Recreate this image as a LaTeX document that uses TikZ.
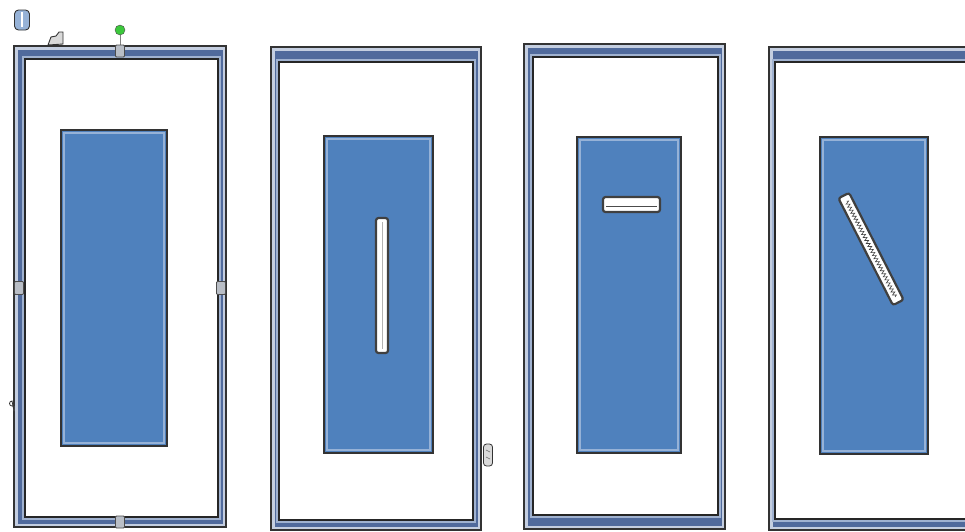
\documentclass[tikz,border=0pt]{standalone}
\usetikzlibrary{decorations.pathmorphing,calc}
\definecolor{officeblue}{RGB}{79,129,189}
\definecolor{bevelblue}{RGB}{150,178,215}
\definecolor{bandlight}{RGB}{196,206,224}
\definecolor{bandmid}{RGB}{80,106,156}
\definecolor{bandpale}{RGB}{160,178,208}
\definecolor{handlegray}{RGB}{185,190,198}
\definecolor{rotgreen}{RGB}{60,200,60}
\newcommand\pframe[8]{%
  \fill[bandlight] (#1,#2) rectangle (#3,#4);
  \draw[black!80,line width=1.4pt] (#1,#2) rectangle (#3,#4);
  \fill[bandmid] ({#1+3.5},{#2+3.5}) rectangle ({#3-3.5},{#4-3.5});
  \fill[bandpale] ({#5-3},{#6-3}) rectangle ({#7+3},{#8+3});
  \fill[white] (#5,#6) rectangle (#7,#8);
  \draw[black!85,line width=1.4pt] (#5,#6) rectangle (#7,#8);
}
\newcommand\bbox[4]{%
  \fill[officeblue] (#1,#2) rectangle (#3,#4);
  \draw[black!80,line width=1.6pt] (#1,#2) rectangle (#3,#4);
  \draw[bevelblue,line width=1.1pt] ({#1+3},{#2+3}) rectangle ({#3-3},{#4-3});
}
\tikzset{
  slotbox/.style={draw=black!75,fill=white,line width=2.2pt,rounded corners=2.5pt,inner sep=0pt},
  handle/.style={draw=black!70,fill=handlegray,line width=0.8pt,rounded corners=1pt,inner sep=0pt},
}
\begin{document}
\begin{tikzpicture}[x=1pt,y=-1pt]
\useasboundingbox (0,0) rectangle (965,531);
\clip (0,0) rectangle (965,531);
\fill[white] (0,0) rectangle (965,531);
% panel frames
\pframe{14}{46}{226}{527}{25}{59}{218}{517}
\pframe{271}{47}{481}{530}{279}{62}{473}{520}
\pframe{524}{44}{725}{529}{533}{57}{718}{515}
\pframe{769}{47}{985}{530}{775}{62}{985}{519}
% blue boxes
\bbox{61}{130}{167}{446}
\bbox{324}{136}{433}{453}
\bbox{577}{137}{681}{453}
\bbox{820}{137}{928}{454}
% slots
\node[slotbox,minimum width=12pt,minimum height=135pt] (s2) at (382,285.5) {};
\draw[black!30,line width=0.6pt] (382,222) -- (382,349);
\node[slotbox,minimum width=57pt,minimum height=15pt] (s3) at (631.5,204.5) {};
\draw[black!70,line width=0.9pt] (606,206) -- (657,206);
\node[slotbox,minimum width=120pt,minimum height=12pt,rotate=-63] (s4) at (871,249) {};
\draw[black!75,line width=0.6pt,decorate,decoration={zigzag,segment length=3.4pt,amplitude=1.8pt}]
  ($(s4.west)!0.06!(s4.east)$) -- ($(s4.west)!0.94!(s4.east)$);
% selection handles on panel 1
\draw[black!50,line width=1pt] (120,35) -- (120,46);
\node[circle,draw=black!70,fill=rotgreen,minimum size=10pt,inner sep=0pt] (rot) at (120,30) {};
\node[handle,minimum width=9pt,minimum height=12pt] (ht) at (120,51) {};
\node[handle,minimum width=9pt,minimum height=12pt] (hb) at (120,522) {};
\node[handle,minimum width=9pt,minimum height=13pt] (hl) at (19,288) {};
\node[handle,minimum width=9pt,minimum height=13pt] (hr) at (221,288) {};
% cursors
\node[draw=black!80,fill=bevelblue,line width=0.9pt,rounded corners=4pt,minimum width=15pt,minimum height=20pt,inner sep=0pt] (cur1) at (22,20) {};
\draw[white,line width=1.2pt] (22,12) -- (22,27);
\draw[black!80,fill=white!85!black,line width=0.9pt] (48,45) -- (51,37) -- (56,36) -- (59,32) -- (63,32) -- (63,44) -- cycle;
\draw[black!80,fill=white,line width=0.8pt] (12,406) arc (90:270:2.5) -- (14,411) -- (14,406) -- cycle;
\node[draw=black!80,fill=white!85!black,line width=0.8pt,rounded corners=3pt,minimum width=9pt,minimum height=22pt,inner sep=0pt] (cur2) at (488,455) {};
\draw[black!60,line width=0.6pt] (486,450) -- (490,452) (486,457) -- (490,459);
\end{tikzpicture}
\end{document}
